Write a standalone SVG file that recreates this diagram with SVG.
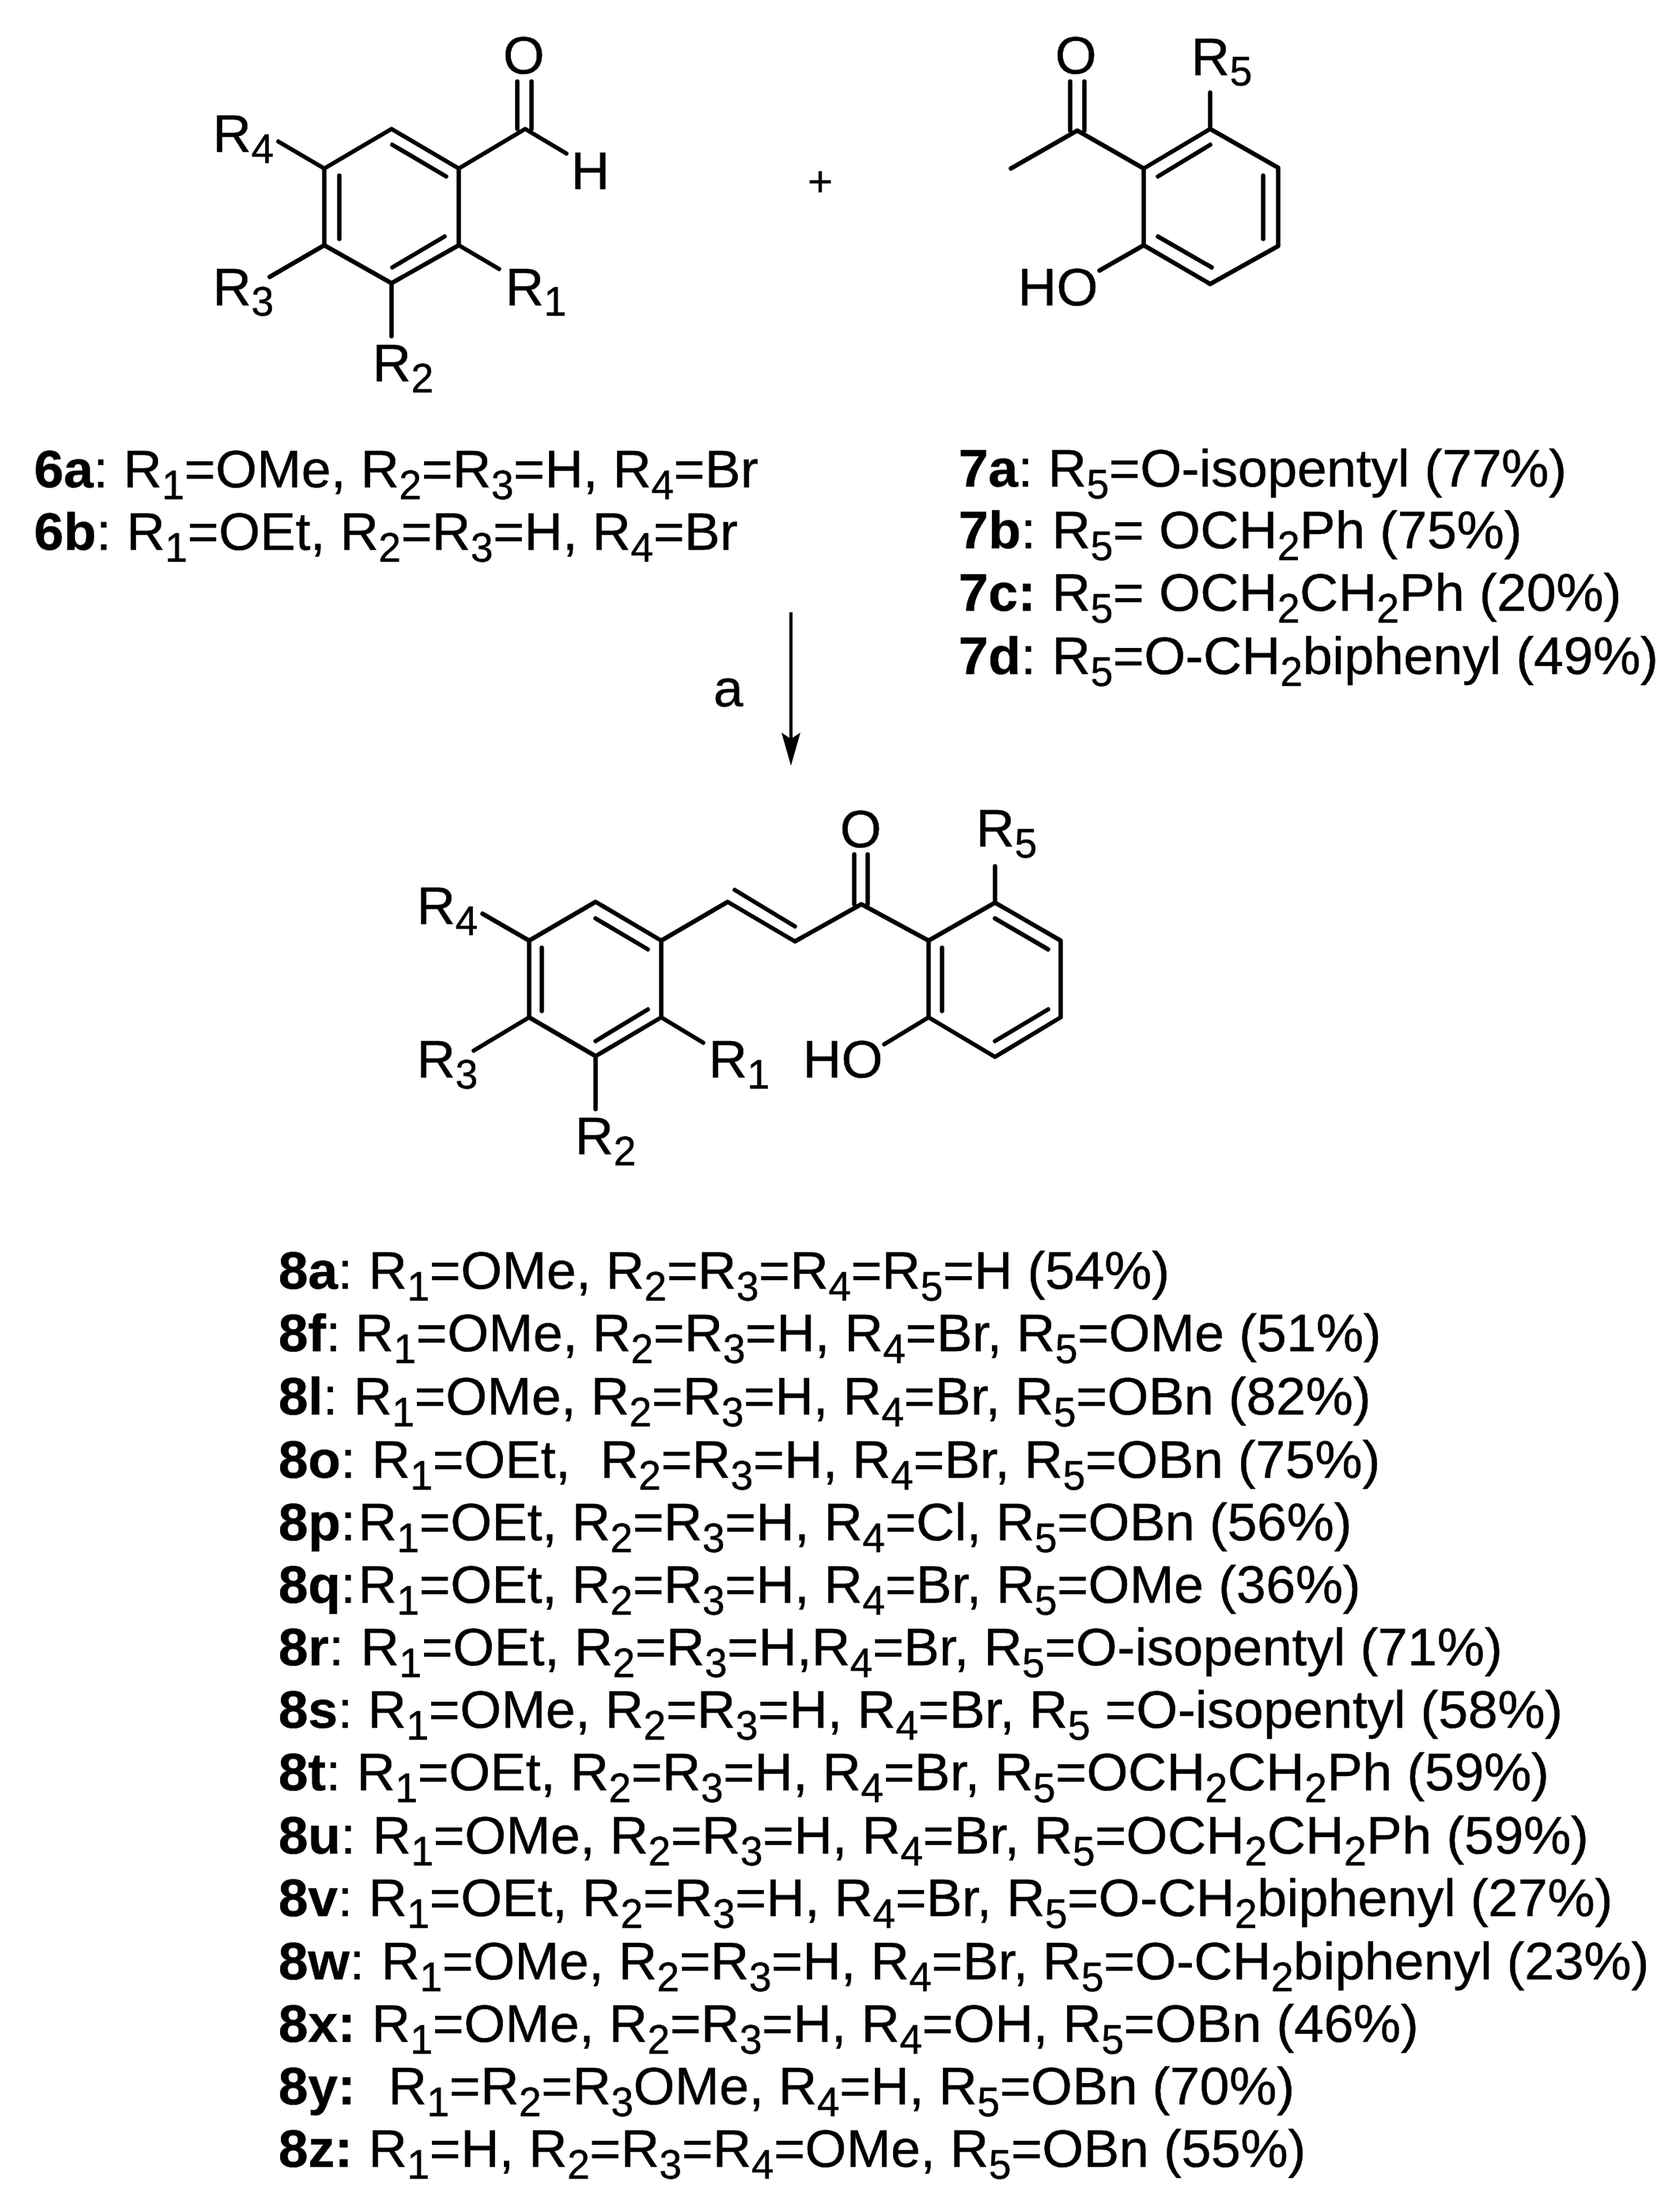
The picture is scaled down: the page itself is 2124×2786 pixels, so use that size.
<svg xmlns="http://www.w3.org/2000/svg" width="2124" height="2786" viewBox="0 0 2124 2786">
<style>
.b{fill:none;stroke:#000;stroke-width:5.5;stroke-linecap:round;stroke-linejoin:round}
text{font-family:"Liberation Sans",Arial,sans-serif;font-size:67.4px;fill:#000;stroke:#000;stroke-width:0.5px;white-space:pre}
.s{font-size:51px}
.l{font-weight:bold}
</style>
<defs>
<marker id="head" markerUnits="userSpaceOnUse" markerWidth="44" markerHeight="26" refX="14" refY="13" orient="auto" viewBox="0 0 44 26"><path d="M0 1L42 13L0 25L8 13Z" fill="#000"/></marker>
</defs>
<rect width="2124" height="2786" fill="#fff"/>
<g id="compound-6">
<path class="b" d="M495 163L580 213V310L495 358L410 310V213ZM496 183L564 223M496 338L562 299M429 222V302M580 213L664 163L716 194M654 103V163M672 103V163M352 179L410 213M410 310L341 350M580 310L631 340M495 358V425"/>
<text x="636" y="93">O</text><text x="722" y="239">H</text>
<text x="269" y="192">R<tspan class="s" dy="14">4</tspan></text>
<text x="269" y="386">R<tspan class="s" dy="13">3</tspan></text>
<text x="639" y="386">R<tspan class="s" dy="13">1</tspan></text>
<text x="471" y="482">R<tspan class="s" dy="14">2</tspan></text>
</g>
<text id="plus" x="1037" y="248" text-anchor="middle" style="font-size:54px">+</text>
<g id="compound-7">
<path class="b" d="M1530 163L1616 212V311L1530 359L1446 310V213ZM1530 183L1464 223M1597 222V302M1464 299L1532 338M1446 213L1362 165L1278 213M1353 103V165M1371 103V165M1530 117V163M1446 310L1390 342"/>
<text x="1334" y="93">O</text>
<text x="1506" y="95">R<tspan class="s" dy="13">5</tspan></text>
<text x="1287" y="386">HO</text>
</g>
<g id="labels-6">
<text y="616"><tspan x="43" class="l">6a</tspan>:<tspan x="156">R</tspan><tspan class="s" dy="15">1</tspan><tspan dy="-15">=OMe, R</tspan><tspan class="s" dy="15">2</tspan><tspan dy="-15">=R</tspan><tspan class="s" dy="15">3</tspan><tspan dy="-15">=H, R</tspan><tspan class="s" dy="15">4</tspan><tspan dy="-15">=Br</tspan></text>
<text y="695"><tspan x="43" class="l">6b</tspan>:<tspan x="160">R</tspan><tspan class="s" dy="15">1</tspan><tspan dy="-15">=OEt, R</tspan><tspan class="s" dy="15">2</tspan><tspan dy="-15">=R</tspan><tspan class="s" dy="15">3</tspan><tspan dy="-15">=H, R</tspan><tspan class="s" dy="15">4</tspan><tspan dy="-15">=Br</tspan></text>
</g>
<g id="labels-7">
<text y="615"><tspan x="1212" class="l">7a</tspan>:<tspan x="1325">R</tspan><tspan class="s" dy="15">5</tspan><tspan dy="-15">=O-isopentyl (77%)</tspan></text>
<text y="693"><tspan x="1212" class="l">7b</tspan>:<tspan x="1330">R</tspan><tspan class="s" dy="15">5</tspan><tspan dy="-15">= OCH</tspan><tspan class="s" dy="15">2</tspan><tspan dy="-15">Ph (75%)</tspan></text>
<text y="772"><tspan x="1212" class="l">7c:</tspan><tspan x="1330">R</tspan><tspan class="s" dy="15">5</tspan><tspan dy="-15">= OCH</tspan><tspan class="s" dy="15">2</tspan><tspan dy="-15">CH</tspan><tspan class="s" dy="15">2</tspan><tspan dy="-15">Ph (20%)</tspan></text>
<text y="852"><tspan x="1212" class="l">7d</tspan>:<tspan x="1330">R</tspan><tspan class="s" dy="15">5</tspan><tspan dy="-15">=O-CH</tspan><tspan class="s" dy="15">2</tspan><tspan dy="-15">biphenyl (49%)</tspan></text>
</g>
<g id="connectors">
<line id="arrow-a" style="stroke:#000;stroke-width:4" x1="1000" y1="774" x2="1000" y2="940" marker-end="url(#head)"/>
</g>
<text id="reagent-a" x="902" y="893">a</text>
<g id="compound-8">
<path class="b" d="M753 1140L836 1189V1286L753 1335L669 1286V1189ZM753 1161L819 1200M753 1316L819 1276M685 1198V1278M836 1189L920 1140L1005 1190L1089 1143L1174 1189L1258 1141L1341 1189V1286L1258 1336L1174 1286V1189M929 1125L1005 1171M1191 1198V1278M1258 1161L1325 1200M1258 1316L1325 1276M1080 1080V1143M1097 1080V1143M1258 1095V1141M1174 1286L1118 1320M610 1155L669 1189M669 1286L599 1328M836 1286L889 1318M753 1335V1402"/>
<text x="1062" y="1071">O</text>
<text x="1234" y="1070">R<tspan class="s" dy="14">5</tspan></text>
<text x="1015" y="1362">HO</text>
<text x="527" y="1168">R<tspan class="s" dy="14">4</tspan></text>
<text x="527" y="1362">R<tspan class="s" dy="14">3</tspan></text>
<text x="896" y="1362">R<tspan class="s" dy="14">1</tspan></text>
<text x="727" y="1459">R<tspan class="s" dy="14">2</tspan></text>
</g>
<g id="labels-8">
<text y="1629"><tspan x="352" class="l">8a</tspan>:<tspan x="466">R</tspan><tspan class="s" dy="15">1</tspan><tspan dy="-15">=OMe, R</tspan><tspan class="s" dy="15">2</tspan><tspan dy="-15">=R</tspan><tspan class="s" dy="15">3</tspan><tspan dy="-15">=R</tspan><tspan class="s" dy="15">4</tspan><tspan dy="-15">=R</tspan><tspan class="s" dy="15">5</tspan><tspan dy="-15">=H (54%)</tspan></text>
<text y="1708"><tspan x="352" class="l">8f</tspan>:<tspan x="449">R</tspan><tspan class="s" dy="15">1</tspan><tspan dy="-15">=OMe, R</tspan><tspan class="s" dy="15">2</tspan><tspan dy="-15">=R</tspan><tspan class="s" dy="15">3</tspan><tspan dy="-15">=H, R</tspan><tspan class="s" dy="15">4</tspan><tspan dy="-15">=Br, R</tspan><tspan class="s" dy="15">5</tspan><tspan dy="-15">=OMe (51%)</tspan></text>
<text y="1788"><tspan x="352" class="l">8l</tspan>:<tspan x="447">R</tspan><tspan class="s" dy="15">1</tspan><tspan dy="-15">=OMe, R</tspan><tspan class="s" dy="15">2</tspan><tspan dy="-15">=R</tspan><tspan class="s" dy="15">3</tspan><tspan dy="-15">=H, R</tspan><tspan class="s" dy="15">4</tspan><tspan dy="-15">=Br, R</tspan><tspan class="s" dy="15">5</tspan><tspan dy="-15">=OBn (82%)</tspan></text>
<text y="1868"><tspan x="352" class="l">8o</tspan>:<tspan x="470">R</tspan><tspan class="s" dy="15">1</tspan><tspan dy="-15">=OEt,  R</tspan><tspan class="s" dy="15">2</tspan><tspan dy="-15">=R</tspan><tspan class="s" dy="15">3</tspan><tspan dy="-15">=H, R</tspan><tspan class="s" dy="15">4</tspan><tspan dy="-15">=Br, R</tspan><tspan class="s" dy="15">5</tspan><tspan dy="-15">=OBn (75%)</tspan></text>
<text y="1947"><tspan x="352" class="l">8p</tspan>:<tspan x="453">R</tspan><tspan class="s" dy="15">1</tspan><tspan dy="-15">=OEt, R</tspan><tspan class="s" dy="15">2</tspan><tspan dy="-15">=R</tspan><tspan class="s" dy="15">3</tspan><tspan dy="-15">=H, R</tspan><tspan class="s" dy="15">4</tspan><tspan dy="-15">=Cl, R</tspan><tspan class="s" dy="15">5</tspan><tspan dy="-15">=OBn (56%)</tspan></text>
<text y="2026"><tspan x="352" class="l">8q</tspan>:<tspan x="453">R</tspan><tspan class="s" dy="15">1</tspan><tspan dy="-15">=OEt, R</tspan><tspan class="s" dy="15">2</tspan><tspan dy="-15">=R</tspan><tspan class="s" dy="15">3</tspan><tspan dy="-15">=H, R</tspan><tspan class="s" dy="15">4</tspan><tspan dy="-15">=Br, R</tspan><tspan class="s" dy="15">5</tspan><tspan dy="-15">=OMe (36%)</tspan></text>
<text y="2105"><tspan x="352" class="l">8r</tspan>:<tspan x="456">R</tspan><tspan class="s" dy="15">1</tspan><tspan dy="-15">=OEt, R</tspan><tspan class="s" dy="15">2</tspan><tspan dy="-15">=R</tspan><tspan class="s" dy="15">3</tspan><tspan dy="-15">=H,R</tspan><tspan class="s" dy="15">4</tspan><tspan dy="-15">=Br, R</tspan><tspan class="s" dy="15">5</tspan><tspan dy="-15">=O-isopentyl (71%)</tspan></text>
<text y="2184"><tspan x="352" class="l">8s</tspan>:<tspan x="465">R</tspan><tspan class="s" dy="15">1</tspan><tspan dy="-15">=OMe, R</tspan><tspan class="s" dy="15">2</tspan><tspan dy="-15">=R</tspan><tspan class="s" dy="15">3</tspan><tspan dy="-15">=H, R</tspan><tspan class="s" dy="15">4</tspan><tspan dy="-15">=Br, R</tspan><tspan class="s" dy="15">5</tspan><tspan dy="-15"> =O-isopentyl (58%)</tspan></text>
<text y="2263"><tspan x="352" class="l">8t</tspan>:<tspan x="451">R</tspan><tspan class="s" dy="15">1</tspan><tspan dy="-15">=OEt, R</tspan><tspan class="s" dy="15">2</tspan><tspan dy="-15">=R</tspan><tspan class="s" dy="15">3</tspan><tspan dy="-15">=H, R</tspan><tspan class="s" dy="15">4</tspan><tspan dy="-15">=Br, R</tspan><tspan class="s" dy="15">5</tspan><tspan dy="-15">=OCH</tspan><tspan class="s" dy="15">2</tspan><tspan dy="-15">CH</tspan><tspan class="s" dy="15">2</tspan><tspan dy="-15">Ph (59%)</tspan></text>
<text y="2343"><tspan x="352" class="l">8u</tspan>:<tspan x="471">R</tspan><tspan class="s" dy="15">1</tspan><tspan dy="-15">=OMe, R</tspan><tspan class="s" dy="15">2</tspan><tspan dy="-15">=R</tspan><tspan class="s" dy="15">3</tspan><tspan dy="-15">=H, R</tspan><tspan class="s" dy="15">4</tspan><tspan dy="-15">=Br, R</tspan><tspan class="s" dy="15">5</tspan><tspan dy="-15">=OCH</tspan><tspan class="s" dy="15">2</tspan><tspan dy="-15">CH</tspan><tspan class="s" dy="15">2</tspan><tspan dy="-15">Ph (59%)</tspan></text>
<text y="2422"><tspan x="352" class="l">8v</tspan>:<tspan x="466">R</tspan><tspan class="s" dy="15">1</tspan><tspan dy="-15">=OEt, R</tspan><tspan class="s" dy="15">2</tspan><tspan dy="-15">=R</tspan><tspan class="s" dy="15">3</tspan><tspan dy="-15">=H, R</tspan><tspan class="s" dy="15">4</tspan><tspan dy="-15">=Br, R</tspan><tspan class="s" dy="15">5</tspan><tspan dy="-15">=O-CH</tspan><tspan class="s" dy="15">2</tspan><tspan dy="-15">biphenyl (27%)</tspan></text>
<text y="2502"><tspan x="352" class="l">8w</tspan>:<tspan x="482">R</tspan><tspan class="s" dy="15">1</tspan><tspan dy="-15">=OMe, R</tspan><tspan class="s" dy="15">2</tspan><tspan dy="-15">=R</tspan><tspan class="s" dy="15">3</tspan><tspan dy="-15">=H, R</tspan><tspan class="s" dy="15">4</tspan><tspan dy="-15">=Br, R</tspan><tspan class="s" dy="15">5</tspan><tspan dy="-15">=O-CH</tspan><tspan class="s" dy="15">2</tspan><tspan dy="-15">biphenyl (23%)</tspan></text>
<text y="2581"><tspan x="352" class="l">8x:</tspan><tspan x="470">R</tspan><tspan class="s" dy="15">1</tspan><tspan dy="-15">=OMe, R</tspan><tspan class="s" dy="15">2</tspan><tspan dy="-15">=R</tspan><tspan class="s" dy="15">3</tspan><tspan dy="-15">=H, R</tspan><tspan class="s" dy="15">4</tspan><tspan dy="-15">=OH, R</tspan><tspan class="s" dy="15">5</tspan><tspan dy="-15">=OBn (46%)</tspan></text>
<text y="2660"><tspan x="352" class="l">8y:</tspan><tspan x="491">R</tspan><tspan class="s" dy="15">1</tspan><tspan dy="-15">=R</tspan><tspan class="s" dy="15">2</tspan><tspan dy="-15">=R</tspan><tspan class="s" dy="15">3</tspan><tspan dy="-15">OMe, R</tspan><tspan class="s" dy="15">4</tspan><tspan dy="-15">=H, R</tspan><tspan class="s" dy="15">5</tspan><tspan dy="-15">=OBn (70%)</tspan></text>
<text y="2739"><tspan x="352" class="l">8z:</tspan><tspan x="466">R</tspan><tspan class="s" dy="15">1</tspan><tspan dy="-15">=H, R</tspan><tspan class="s" dy="15">2</tspan><tspan dy="-15">=R</tspan><tspan class="s" dy="15">3</tspan><tspan dy="-15">=R</tspan><tspan class="s" dy="15">4</tspan><tspan dy="-15">=OMe, R</tspan><tspan class="s" dy="15">5</tspan><tspan dy="-15">=OBn (55%)</tspan></text>
</g>
</svg>
